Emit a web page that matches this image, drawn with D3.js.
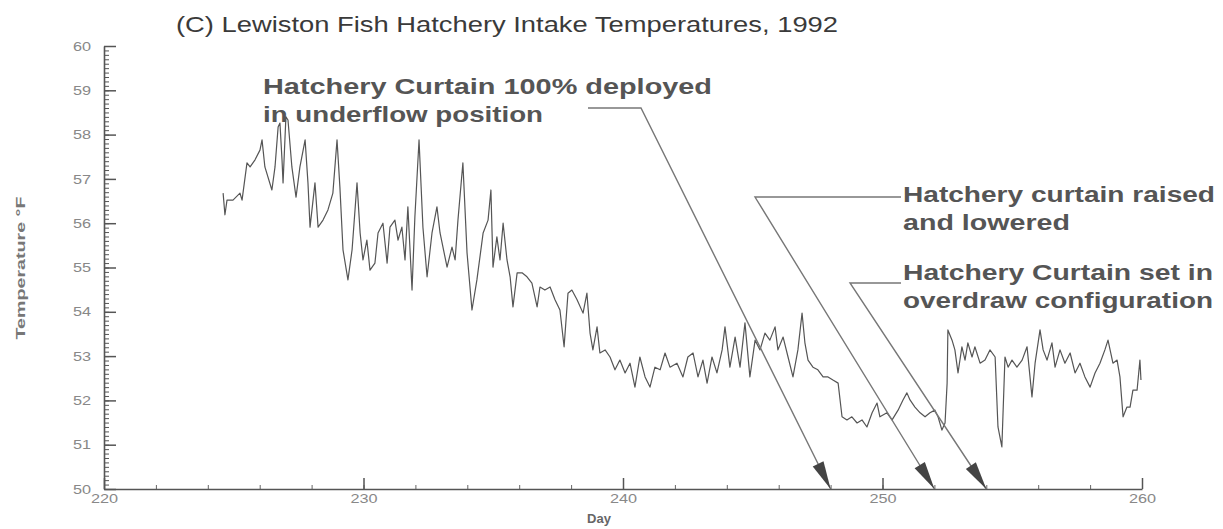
<!DOCTYPE html>
<html>
<head>
<meta charset="utf-8">
<script src="https://cdn.jsdelivr.net/npm/d3@7"></script>
<style>
body { margin: 0; background: #fff; }
text { font-family: "Liberation Sans", Arial, sans-serif; }
</style>
</head>
<body>
<svg id="chart"></svg>
<script>
// day of year (1992) and intake temperature (deg F)
const days = [224.59,224.66,224.74,224.97,225.24,225.32,225.51,225.63,225.82,226.01,226.09,226.20,226.47,226.59,226.71,226.78,226.86,226.90,227.01,227.09,
  227.24,227.40,227.55,227.75,227.86,227.94,228.13,228.25,228.44,228.63,228.82,228.98,229.09,229.21,229.40,229.56,229.75,229.87,229.98,230.13,
  230.25,230.44,230.56,230.75,230.91,231.02,231.21,231.33,231.48,231.60,231.71,231.87,231.98,232.14,232.29,232.45,232.64,232.83,232.95,233.22,
  233.41,233.53,233.64,233.83,233.99,234.18,234.37,234.61,234.80,234.91,234.99,235.14,235.26,235.38,235.53,235.65,235.76,235.92,236.11,236.30,
  236.49,236.69,236.80,236.99,237.19,237.38,237.57,237.73,237.88,238.03,238.23,238.46,238.61,238.73,238.84,239.00,239.11,239.31,239.50,239.69,
  239.88,240.08,240.27,240.46,240.65,240.85,241.04,241.23,241.43,241.62,241.81,242.08,
  242.31,242.50,242.70,242.89,243.08,243.24,243.43,243.62,243.82,243.93,244.12,244.32,244.51,244.70,244.89,245.09,245.28,245.47,245.66,245.86,
  245.97,246.17,246.36,246.55,246.74,246.90,247.01,247.13,247.32,247.51,247.71,247.90,248.09,248.29,248.44,248.63,248.82,249.02,249.21,249.40,
  249.60,249.79,249.90,250.17,250.37,250.60,250.79,250.94,
  251.06,251.25,251.45,251.64,251.83,252.02,252.14,252.29,252.41,252.49,252.52,252.68,252.79,252.91,253.06,253.18,253.29,253.45,253.56,253.76,
  253.95,254.14,254.34,254.45,254.60,254.72,254.84,254.99,255.18,255.38,255.57,255.76,255.88,256.07,256.19,256.34,256.53,256.65,256.84,257.03,
  257.23,257.42,257.61,257.80,258.00,258.19,258.38,258.57,258.69,258.88,259.04,259.15,259.27,259.42,259.54,259.65,259.81,259.92,259.96];

const temps = [56.68,56.19,56.52,56.52,56.68,56.52,57.36,57.27,57.43,57.65,57.88,57.27,56.75,57.27,58.17,58.26,57.43,56.91,58.40,58.33,
  57.27,56.59,57.27,57.88,56.91,55.91,56.91,55.91,56.07,56.30,56.68,57.88,56.82,55.40,54.72,55.40,56.91,55.78,55.17,55.62,
  54.94,55.10,55.78,56.00,55.10,55.91,56.07,55.62,55.91,55.17,56.37,54.49,56.14,57.88,55.91,54.79,55.78,56.37,55.78,55.01,
  55.46,55.17,56.07,57.36,55.33,54.04,54.72,55.78,56.07,56.75,55.01,55.69,55.17,56.00,55.17,54.79,54.11,54.88,54.88,54.79,
  54.65,54.11,54.56,54.49,54.56,54.27,54.04,53.21,54.42,54.49,54.27,53.97,54.42,53.52,53.14,53.66,53.07,53.14,52.98,52.69,
  52.91,52.62,52.84,52.30,52.98,52.53,52.30,52.75,52.69,53.07,52.75,52.84,
  52.53,52.98,53.07,52.53,52.91,52.39,52.98,52.62,53.14,53.66,52.75,53.43,52.75,53.75,52.53,53.36,53.14,53.52,53.36,53.66,
  53.14,53.43,52.98,52.53,53.14,53.97,53.30,52.91,52.75,52.69,52.53,52.53,52.46,52.39,51.63,51.56,51.63,51.49,51.56,51.40,
  51.72,51.94,51.63,51.72,51.56,51.78,52.01,52.17,
  52.01,51.85,51.72,51.63,51.72,51.78,51.63,51.33,51.49,52.39,53.59,53.36,53.14,52.62,53.21,52.91,53.30,52.98,53.21,52.84,
  52.91,53.14,52.98,51.40,50.95,52.98,52.75,52.91,52.75,52.91,53.21,52.08,52.84,53.59,53.14,52.91,53.30,52.75,53.14,52.84,
  53.07,52.62,52.84,52.53,52.30,52.62,52.84,53.14,53.36,52.84,52.91,52.53,51.63,51.85,51.85,52.23,52.23,52.91,52.46];

const yTicks = [50, 51, 52, 53, 54, 55, 56, 57, 58, 59, 60];
const xTicks = [220, 230, 240, 250, 260];

const title = '(C)  Lewiston Fish Hatchery Intake Temperatures, 1992';
const noteLines = [
  ['Hatchery Curtain 100% deployed', 'in underflow position'],
  ['Hatchery curtain raised', 'and lowered'],
  ['Hatchery Curtain set in', 'overdraw configuration']
];
const noteDays = [248, 252, 254];

const width = 1223, height = 529;
const svg = d3.select('#chart').attr('width', width).attr('height', height);

const xs = d3.scaleLinear().domain([220, 260]).range([104, 1142]);
const ys = d3.scaleLinear().domain([50, 60]).range([489, 46]);

// the scanned figure is stretched sideways, so widen text a bit
function stretch(sel, k) {
  sel.each(function () {
    const w = this.getComputedTextLength();
    d3.select(this).attr('textLength', w * k).attr('lengthAdjust', 'spacingAndGlyphs');
  });
}

// minor ticks first, majors on top
svg.append('g')
  .attr('transform', 'translate(104,0)')
  .call(d3.axisLeft(ys).tickValues(d3.range(50, 60.001, 0.1)).tickSize(-5).tickFormat(''))
  .call(g => g.select('.domain').remove())
  .selectAll('line').attr('stroke', '#555');

svg.append('g')
  .attr('transform', 'translate(0,489)')
  .call(d3.axisBottom(xs).tickValues(d3.range(220, 260.001, 2)).tickSize(-4).tickFormat(''))
  .call(g => g.select('.domain').remove())
  .selectAll('line').attr('stroke', '#666');

const yAxis = svg.append('g')
  .attr('transform', 'translate(104,0)')
  .call(d3.axisLeft(ys).tickValues(yTicks).tickSize(-12).tickSizeOuter(0).tickPadding(13).tickFormat(d3.format('d')));
yAxis.select('.domain').attr('stroke', '#555').attr('stroke-width', 1.6);
yAxis.selectAll('line').attr('stroke', '#555').attr('stroke-width', 1.5);
yAxis.selectAll('text').attr('fill', '#888').style('font-size', '13px').call(stretch, 1.25);

const xAxis = svg.append('g')
  .attr('transform', 'translate(0,489)')
  .call(d3.axisBottom(xs).tickValues(xTicks).tickSize(-11).tickSizeOuter(0).tickPadding(5).tickFormat(d3.format('d')));
xAxis.select('.domain').attr('stroke', '#555').attr('stroke-width', 1.6);
xAxis.selectAll('line').attr('stroke', '#555').attr('stroke-width', 1.5);
xAxis.selectAll('text').attr('fill', '#888').style('font-size', '13px').call(stretch, 1.25);

// axis titles
svg.append('text')
  .attr('transform', 'translate(25,268) rotate(-90)')
  .attr('text-anchor', 'middle')
  .attr('fill', '#777')
  .style('font-size', '13px')
  .style('font-weight', 'bold')
  .attr('textLength', 143).attr('lengthAdjust', 'spacingAndGlyphs')
  .text('Temperature \u00B0F');

svg.append('text')
  .attr('x', 599).attr('y', 523)
  .attr('text-anchor', 'middle')
  .attr('fill', '#666')
  .style('font-size', '13px')
  .style('font-weight', 'bold')
  .text('Day');

svg.append('text')
  .attr('x', 176).attr('y', 32)
  .attr('fill', '#3a3a3a')
  .style('font-size', '22px')
  .attr('textLength', 662).attr('lengthAdjust', 'spacingAndGlyphs')
  .text(title);

// temperature trace
const line = d3.line().x((d, i) => xs(days[i])).y(d => ys(d));
svg.append('path')
  .datum(temps)
  .attr('fill', 'none')
  .attr('stroke', '#555')
  .attr('stroke-width', 1.2)
  .attr('stroke-linejoin', 'round')
  .attr('d', line);

// annotations: text block, elbow of the leader, arrow at the x axis
const noteText = [{ x: 263, y: 94, w: [449, 280] }, { x: 903, y: 202, w: [312, 167] }, { x: 903, y: 280, w: [310, 310] }];
const noteLeader = [[[588, 108], [641, 108]], [[901, 197], [755, 197]], [[901, 283], [850, 283]]];

noteLines.forEach((lines, i) => {
  const t = noteText[i];
  lines.forEach((s, j) => {
    svg.append('text')
      .attr('x', t.x).attr('y', t.y + j * 28)
      .attr('fill', '#555')
      .style('font-size', '22px')
      .style('font-weight', 'bold')
      .attr('textLength', t.w[j]).attr('lengthAdjust', 'spacingAndGlyphs')
      .text(s);
  });

  const tip = [xs(noteDays[i]), ys(50)];
  const pts = noteLeader[i].concat([tip]);
  svg.append('path')
    .attr('d', d3.line()(pts))
    .attr('fill', 'none')
    .attr('stroke', '#777')
    .attr('stroke-width', 1.4);

  // arrow head
  const elbow = noteLeader[i][1];
  const ang = Math.atan2(tip[1] - elbow[1], tip[0] - elbow[0]);
  const len = 28, half = 6;
  const bx = tip[0] - len * Math.cos(ang), by = tip[1] - len * Math.sin(ang);
  const head = [tip,
    [bx + half * Math.sin(ang), by - half * Math.cos(ang)],
    [bx - half * Math.sin(ang), by + half * Math.cos(ang)]];
  svg.append('path')
    .attr('d', d3.line()(head) + 'Z')
    .attr('fill', '#444');
});
</script>
</body>
</html>
